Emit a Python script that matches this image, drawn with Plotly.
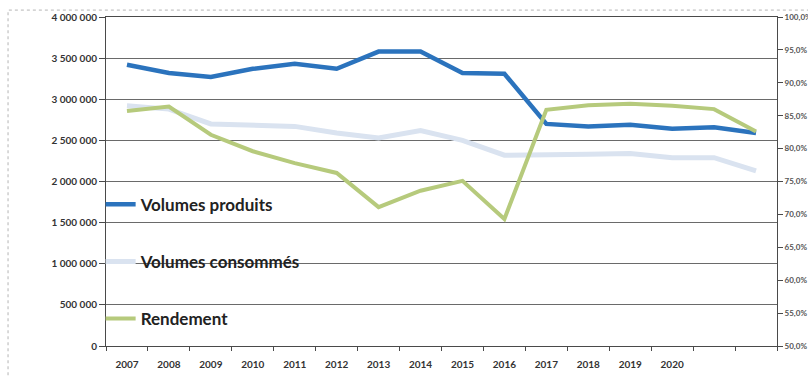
import plotly.graph_objects as go

# Années de la série (les deux dernières ne portent pas d'étiquette sur l'axe)
annees = list(range(2007, 2023))
etiquettes_annees = [str(a) for a in range(2007, 2021)]

# Volumes en m3
volumes_produits = [3420000, 3320000, 3270000, 3370000, 3430000, 3370000, 3580000, 3580000,
                    3320000, 3310000, 2700000, 2670000, 2690000, 2640000, 2660000, 2590000]
volumes_consommes = [2920000, 2880000, 2700000, 2680000, 2670000, 2590000, 2530000, 2620000,
                     2500000, 2320000, 2320000, 2330000, 2340000, 2290000, 2290000, 2130000]
# Rendement du réseau en %
rendement = [85.7, 86.4, 82.1, 79.6, 77.8, 76.3, 71.1, 73.6,
             75.1, 69.3, 85.9, 86.6, 86.8, 86.5, 86.0, 82.6]

BLEU = "#2b73bd"
BLEU_CLAIR = "#dae3f0"
VERT = "#b6ca7c"
FONT = "Lato"

fig = go.Figure()
fig.add_trace(go.Scatter(x=annees, y=volumes_produits, name="Volumes produits",
                         mode="lines", line=dict(color=BLEU, width=4.5),
                         legendgroup="a"))
fig.add_trace(go.Scatter(x=annees, y=volumes_consommes, name="Volumes consommés",
                         mode="lines", line=dict(color=BLEU_CLAIR, width=5),
                         legendgroup="b"))
fig.add_trace(go.Scatter(x=annees, y=rendement, name="Rendement", yaxis="y2",
                         mode="lines", line=dict(color=VERT, width=4),
                         legendgroup="c"))

axe = "#4a4a4a"
fig.update_layout(
    width=808, height=378,
    margin=dict(l=106, r=31, t=17, b=32, autoexpand=False),
    paper_bgcolor="white", plot_bgcolor="white",
    separators=", ",
    font=dict(family=FONT, color="#333"),
    xaxis=dict(
        range=[2006.5, 2022.5],
        tickmode="array", tickvals=annees[:len(etiquettes_annees)],
        ticktext=etiquettes_annees,
        ticks="", showgrid=False, zeroline=False,
        showline=True, mirror=True, linecolor=axe, linewidth=1,
        ticklabelstandoff=9, automargin=False,
        tickfont=dict(family=FONT, size=10, color="#333", weight="bold"),
        minor=dict(tickmode="array", tickvals=[a - 0.5 for a in annees] + [annees[-1] + 0.5],
                   ticks="outside", ticklen=4, tickcolor=axe, showgrid=False),
    ),
    yaxis=dict(
        range=[0, 4000000], dtick=500000, tickformat=",d",
        showgrid=True, gridcolor="#6a6a6a", gridwidth=1, zeroline=False,
        showline=True, linecolor=axe, linewidth=1,
        ticks="outside", ticklen=6, tickcolor=axe, automargin=False,
        tickfont=dict(family=FONT, size=10, color="#333", weight="bold"),
    ),
    yaxis2=dict(
        range=[50, 100], dtick=5, tickformat=".1f", ticksuffix="%",
        overlaying="y", side="right",
        showgrid=False, zeroline=False,
        showline=True, linecolor=axe, linewidth=1,
        ticks="outside", ticklen=5, tickcolor=axe, automargin=False,
        tickfont=dict(family=FONT, size=8, color="#555", weight="bold"),
    ),
    legend=dict(
        x=-0.008, y=0.484, xanchor="left", yanchor="top",
        bgcolor="rgba(0,0,0,0)", tracegroupgap=32,
        font=dict(family=FONT, size=17, color="#222", weight="bold"),
        itemwidth=30,
    ),
    shapes=[dict(type="rect", xref="paper", yref="paper",
                 x0=-0.146, x1=1.1, y0=-0.2, y1=1.021,
                 line=dict(color="#b5b5b5", width=1, dash="dot"), layer="below")],
)

fig.write_html("out.html")
